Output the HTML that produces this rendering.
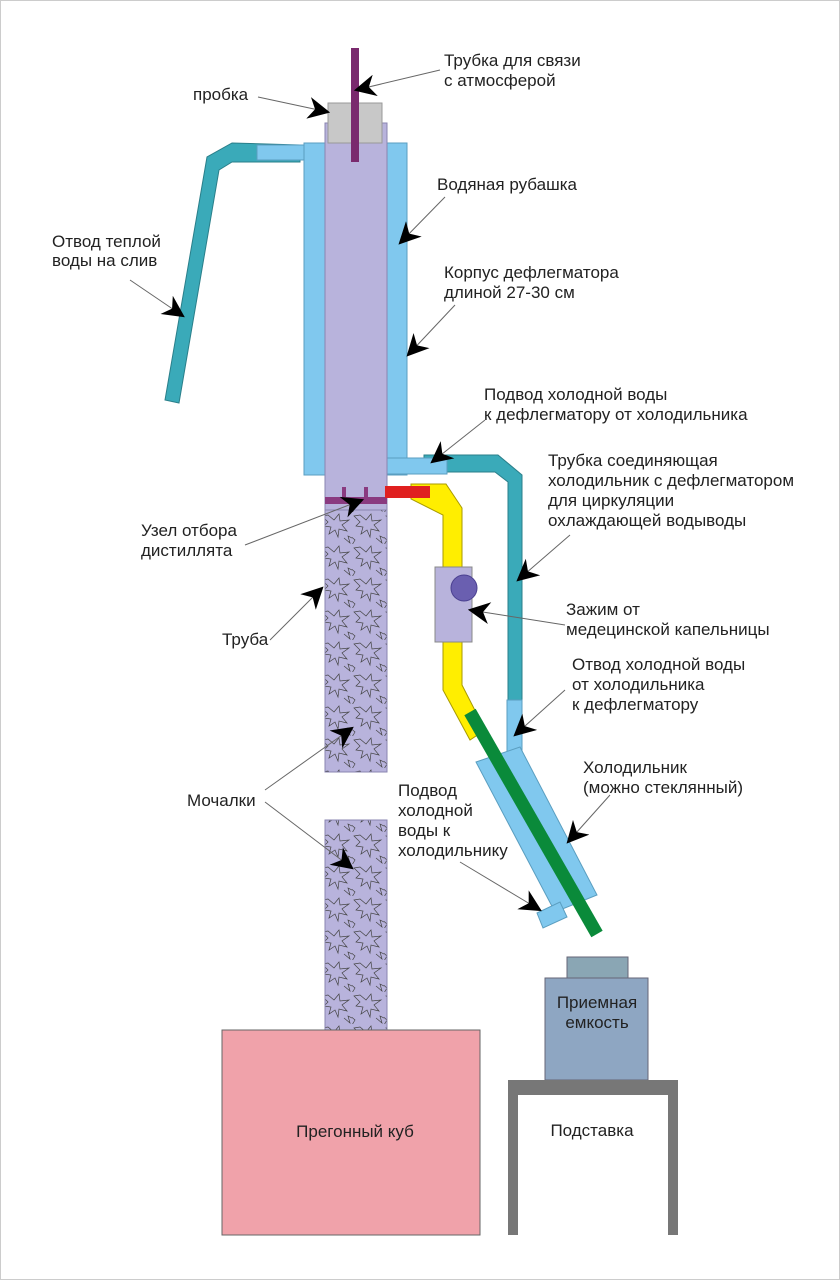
<!DOCTYPE html>
<html><head><meta charset="utf-8"><style>
html,body{margin:0;padding:0;background:#fff}
svg{display:block}
text{font-family:"Liberation Sans",sans-serif;font-size:17px;fill:#222}
</style></head><body>
<svg width="840" height="1280" viewBox="0 0 840 1280" xmlns="http://www.w3.org/2000/svg">
<defs>
<marker id="ah" viewBox="0 0 10 10" refX="9" refY="5" markerWidth="22" markerHeight="22" markerUnits="userSpaceOnUse" orient="auto"><path d="M0,0 L10,5 L0,10 L3,5 Z" fill="#000"/></marker>
<pattern id="moch" width="32" height="32" patternUnits="userSpaceOnUse">
<rect width="32" height="32" fill="#b8b3dc"/>
<path d="M2,4 L8,10 L4,14 L11,15 L9,22 L15,18 L18,25 L19,17 L27,19 L22,13 L29,8 L20,9 L19,2 L14,8 L8,3 Z" fill="none" stroke="#444" stroke-width="0.7"/>
<path d="M-4,22 L3,28 L0,33 M24,26 L30,31 L28,24 L34,27" fill="none" stroke="#444" stroke-width="0.7"/>
</pattern>
</defs>
<rect x="0.5" y="0.5" width="839" height="1279" fill="none" stroke="#ccc"/>

<polygon points="300,145 232,143 207,157 165,400 179,403 219,170 232,162 300,162" fill="#3aaab9" stroke="#2a7f8a" stroke-width="1"/>
<rect x="257" y="145" width="48" height="15" fill="#80c8ee" stroke="#5a9ec0" stroke-width="1"/>
<rect x="304" y="143" width="103" height="332" fill="#80c8ee" stroke="#5a9ec0" stroke-width="1"/>
<polygon points="424,455 498,455 522,475 522,700 508,700 508,482 495,472 424,472" fill="#3aaab9" stroke="#2a7f8a" stroke-width="1"/>
<rect x="387" y="458" width="60" height="16" fill="#80c8ee" stroke="#5a9ec0" stroke-width="1"/>
<rect x="507" y="700" width="15" height="52" fill="#80c8ee" stroke="#5a9ec0" stroke-width="1"/>
<rect x="325" y="123" width="62" height="387" fill="#b8b3dc" stroke="#8a85b0" stroke-width="1"/>
<rect x="325" y="510" width="62" height="262" fill="url(#moch)" stroke="#8a85b0" stroke-width="1"/>
<rect x="325" y="820" width="62" height="210" fill="url(#moch)" stroke="#8a85b0" stroke-width="1"/>
<rect x="328" y="103" width="54" height="40" fill="#c8c8c8" stroke="#999"/>
<rect x="351" y="48" width="8" height="114" fill="#7a2a6e"/>
<rect x="325" y="497" width="62" height="7" fill="#8a3a80"/>
<rect x="342" y="487" width="4" height="17" fill="#8a3a80"/>
<rect x="364" y="487" width="4" height="17" fill="#8a3a80"/>
<polygon points="411,484 446,484 462,508 462,685 485,730 470,740 443,690 443,515 411,499" fill="#ffee00" stroke="#a89a00" stroke-width="1"/>
<rect x="385" y="486" width="45" height="12" fill="#e02020"/>
<rect x="435" y="567" width="37" height="75" fill="#b8b3dc" stroke="#888"/>
<circle cx="464" cy="588" r="13" fill="#6a5fb0" stroke="#4a4090"/>
<polygon points="476,762 520,747 597,895 555,912" fill="#80c8ee" stroke="#5a9ec0" stroke-width="1"/>
<polygon points="537,913 560,902 567,917 543,928" fill="#80c8ee" stroke="#5a9ec0" stroke-width="1"/>
<line x1="470" y1="712" x2="597" y2="934" stroke="#0a8a3a" stroke-width="13"/>
<rect x="567" y="957" width="61" height="21" fill="#8aa6b4" stroke="#667"/>
<rect x="545" y="978" width="103" height="102" fill="#8ea6c2" stroke="#667"/>
<rect x="508" y="1080" width="170" height="15" fill="#777"/>
<rect x="508" y="1095" width="10" height="140" fill="#777"/>
<rect x="668" y="1095" width="10" height="140" fill="#777"/>
<rect x="222" y="1030" width="258" height="205" fill="#f0a2aa" stroke="#666"/>

<g stroke="#666" stroke-width="1" fill="none" marker-end="url(#ah)">
<line x1="440" y1="70" x2="356" y2="90"/>
<line x1="258" y1="97" x2="328" y2="112"/>
<line x1="445" y1="197" x2="400" y2="243"/>
<line x1="130" y1="280" x2="183" y2="316"/>
<line x1="455" y1="305" x2="408" y2="355"/>
<line x1="485" y1="420" x2="432" y2="462"/>
<line x1="570" y1="535" x2="518" y2="580"/>
<line x1="245" y1="545" x2="362" y2="500"/>
<line x1="270" y1="640" x2="322" y2="588"/>
<line x1="565" y1="625" x2="470" y2="610"/>
<line x1="565" y1="690" x2="515" y2="735"/>
<line x1="610" y1="795" x2="568" y2="842"/>
<line x1="265" y1="790" x2="352" y2="728"/>
<line x1="265" y1="802" x2="352" y2="868"/>
<line x1="460" y1="862" x2="540" y2="910"/>
</g>

<text x="444" y="66">Трубка для связи</text>
<text x="444" y="86">с атмосферой</text>
<text x="193" y="100">пробка</text>
<text x="437" y="190">Водяная рубашка</text>
<text x="52" y="247">Отвод  теплой</text>
<text x="52" y="266">воды на слив</text>
<text x="444" y="278">Корпус дефлегматора</text>
<text x="444" y="298">длиной 27-30 см</text>
<text x="484" y="400">Подвод холодной воды</text>
<text x="484" y="420">к дефлегматору от холодильника</text>
<text x="548" y="466">Трубка соединяющая</text>
<text x="548" y="486">холодильник с дефлегматором</text>
<text x="548" y="506">для циркуляции</text>
<text x="548" y="526">охлаждающей водыводы</text>
<text x="141" y="536">Узел отбора</text>
<text x="141" y="556">дистиллята</text>
<text x="222" y="645">Труба</text>
<text x="566" y="615">Зажим от</text>
<text x="566" y="635">медецинской капельницы</text>
<text x="572" y="670">Отвод холодной воды</text>
<text x="572" y="690">от холодильника</text>
<text x="572" y="710">к дефлегматору</text>
<text x="583" y="773">Холодильник</text>
<text x="583" y="793">(можно стеклянный)</text>
<text x="187" y="806">Мочалки</text>
<text x="398" y="796">Подвод</text>
<text x="398" y="816">холодной</text>
<text x="398" y="836">воды к</text>
<text x="398" y="856">холодильнику</text>
<text x="597" y="1008" text-anchor="middle">Приемная</text>
<text x="597" y="1028" text-anchor="middle">емкость</text>
<text x="355" y="1137" text-anchor="middle">Прегонный куб</text>
<text x="592" y="1136" text-anchor="middle">Подставка</text>
</svg>
</body></html>
